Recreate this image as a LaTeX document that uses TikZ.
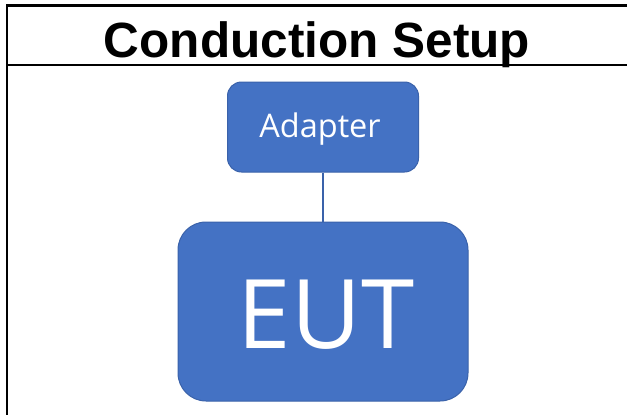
\documentclass[tikz,border=0pt]{standalone}
\usepackage{fontspec}
\setmainfont{Liberation Sans}
\newfontfamily\boxfont{Open Sans}
\definecolor{boxblue}{HTML}{4472C4}
\definecolor{boxedge}{HTML}{3A62AA}
\tikzset{
  bluebox/.style={draw=boxedge, line width=1pt, fill=boxblue, text=white, inner sep=0pt},
  rule/.style={line width=2.2pt, black},
}
\begin{document}
\begin{tikzpicture}[x=1pt,y=-1pt]
\useasboundingbox (0,0) rectangle (627,415);
\fill[white] (0,0) rectangle (627,415);
% frame
\draw[rule] (7,415) -- (7,5.5) -- (627,5.5);
\draw[rule] (7,65) -- (627,65);
\node[font=\bfseries\fontsize{49.5}{49.5}\selectfont, anchor=base] (title) at (317,57) {Conduction Setup};
% boxes
\node[bluebox, rounded corners=14pt, minimum width=191pt, minimum height=90pt] (adapter) at (323,127) {};
\node[text=white, font=\boxfont\fontsize{32.5}{32.5}\selectfont, anchor=base] (adaptertext) at (320,137) {Adapter};
\node[bluebox, rounded corners=28pt, minimum width=290pt, minimum height=179pt] (eut) at (323,311.5) {};
\node[text=white, font=\boxfont\fontsize{96}{96}\selectfont, anchor=base] (euttext) at (326,348) {EUT};
\draw[boxedge, line width=2pt] (adapter.south) -- (eut.north);
\end{tikzpicture}
\end{document}
